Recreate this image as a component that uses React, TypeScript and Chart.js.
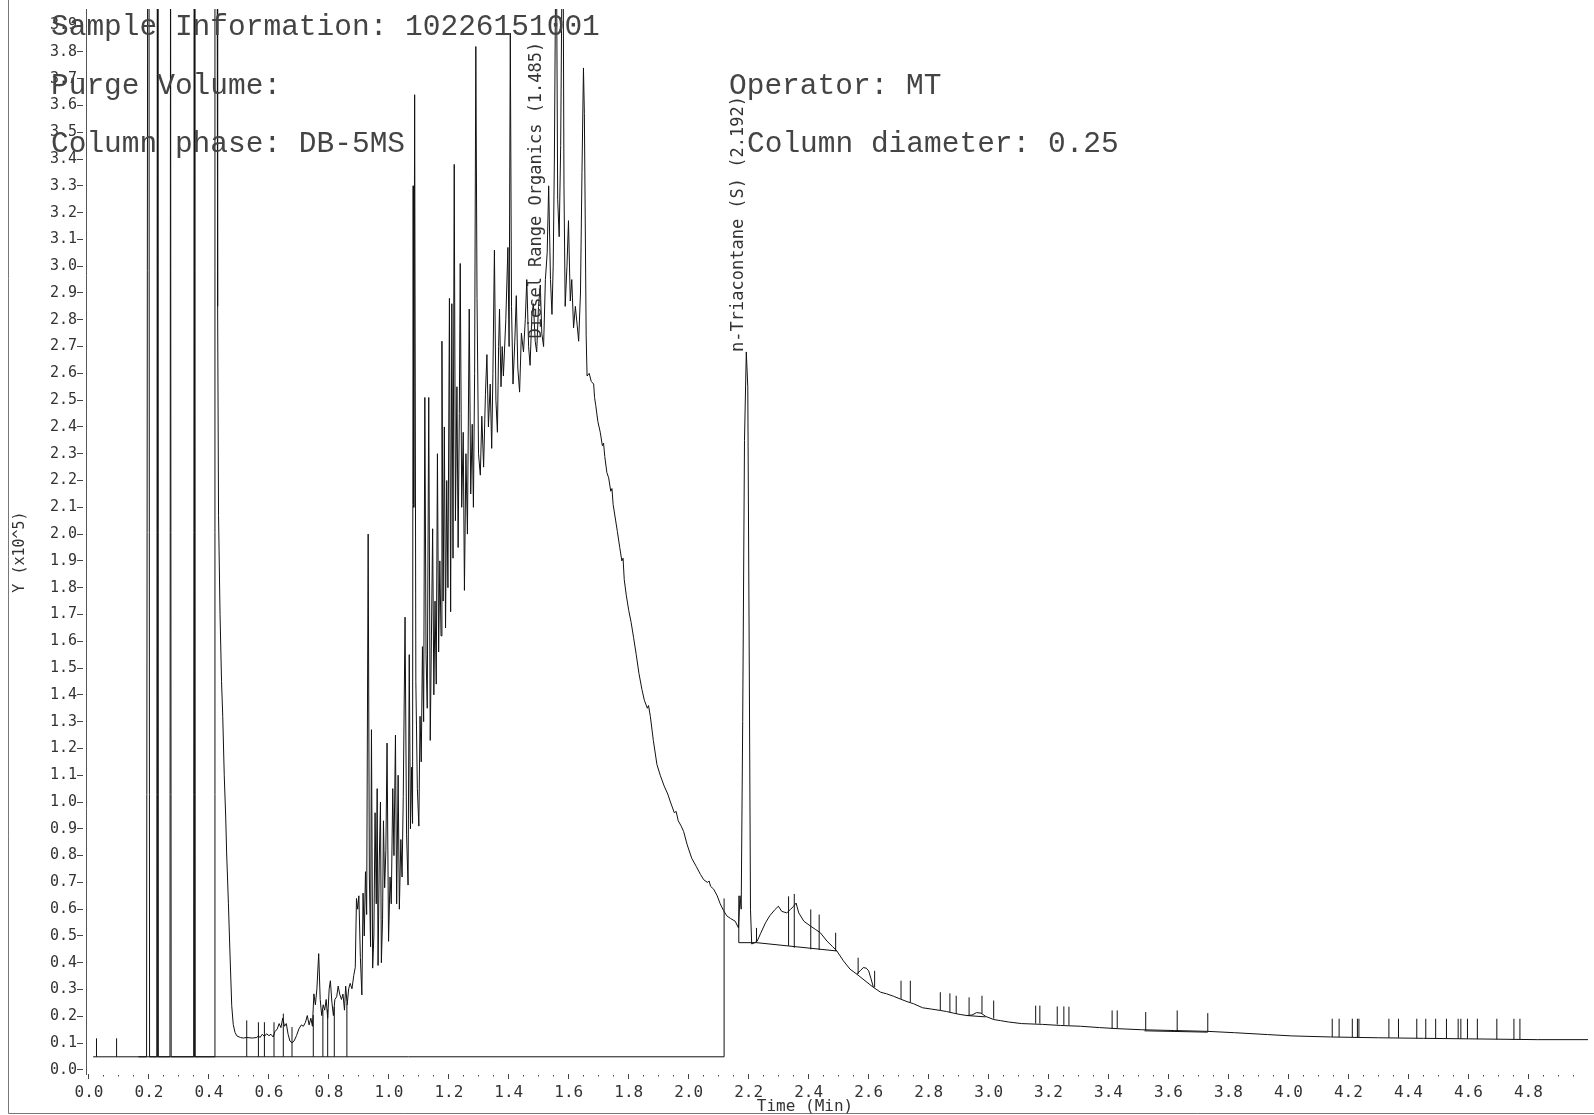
import React, { useEffect, useRef } from "react";
import { Chart, registerables } from "chart.js";

Chart.register(...registerables);

// ---------- DATA (time in minutes, response in 10^5 units) ----------

// solvent front: narrow spikes and the big solvent peak
const earlyTrace: [number, number][] = [
  [0.165, 0.049], [0.192, 0.049], [0.196, 4.6], [0.2, 4.6], [0.202, 0.049],
  [0.226, 0.049], [0.228, 4.6], [0.23, 0.049],
  [0.27, 0.049], [0.272, 4.6], [0.274, 0.049],
  [0.349, 0.049], [0.351, 4.6], [0.353, 0.049],
  [0.417, 0.049], [0.42, 4.6], [0.427, 4.6], [0.429, 2.85], [0.432, 2.07], [0.437, 1.7],
  [0.442, 1.45], [0.446, 1.32], [0.451, 1.1], [0.456, 0.94], [0.459, 0.81], [0.465, 0.62],
  [0.47, 0.44], [0.476, 0.24], [0.481, 0.17], [0.487, 0.14], [0.493, 0.127], [0.505, 0.121],
  [0.515, 0.119],
];

// low baseline region before the hydrocarbon hump
const lowTrace: [number, number][] = [
  [0.525, 0.121], [0.545, 0.119], [0.56, 0.121], [0.565, 0.128], [0.57, 0.121], [0.578, 0.133],
  [0.585, 0.125], [0.592, 0.135], [0.6, 0.128], [0.607, 0.133], [0.614, 0.123], [0.62, 0.143],
  [0.628, 0.153], [0.634, 0.173], [0.64, 0.158], [0.646, 0.193], [0.652, 0.163], [0.658, 0.173],
  [0.664, 0.133], [0.67, 0.108], [0.677, 0.101], [0.684, 0.108], [0.692, 0.128], [0.7, 0.153],
  [0.708, 0.168], [0.715, 0.163], [0.722, 0.178], [0.728, 0.203], [0.734, 0.168], [0.74, 0.193],
  [0.745, 0.163], [0.75, 0.284], [0.755, 0.243], [0.76, 0.303], [0.766, 0.434], [0.771, 0.263],
  [0.776, 0.203], [0.781, 0.243], [0.786, 0.223], [0.791, 0.263], [0.796, 0.193], [0.801, 0.303],
  [0.805, 0.333], [0.81, 0.253], [0.815, 0.203], [0.82, 0.263], [0.826, 0.273], [0.831, 0.313],
  [0.836, 0.283], [0.842, 0.263], [0.847, 0.283], [0.852, 0.223], [0.856, 0.313], [0.861, 0.243],
  [0.866, 0.303], [0.871, 0.323], [0.877, 0.303], [0.883, 0.353], [0.888, 0.383],
];

// diesel range organics: dense spike forest
const droForest: [number, number][] = [
  [0.892, 0.64], [0.896, 0.6], [0.9, 0.65], [0.905, 0.42], [0.91, 0.28], [0.914, 0.66],
  [0.918, 0.5], [0.922, 0.74], [0.926, 0.58], [0.931, 2.0], [0.935, 0.72], [0.939, 0.46],
  [0.942, 1.27], [0.946, 0.38], [0.95, 0.5], [0.954, 0.96], [0.958, 0.62], [0.961, 1.05],
  [0.964, 0.39], [0.968, 0.78], [0.972, 1.0], [0.975, 0.4], [0.979, 0.56], [0.982, 0.93],
  [0.986, 0.68], [0.99, 0.82], [0.994, 1.22], [0.999, 0.48], [1.004, 0.72], [1.008, 0.62],
  [1.013, 1.05], [1.017, 0.8], [1.022, 1.25], [1.026, 0.62], [1.031, 1.1], [1.035, 0.6],
  [1.04, 0.86], [1.044, 0.72], [1.048, 1.02], [1.054, 1.69], [1.059, 0.88], [1.064, 0.69],
  [1.068, 1.55], [1.072, 0.9], [1.076, 1.13], [1.079, 0.92], [1.081, 3.3], [1.083, 2.1],
  [1.086, 3.64], [1.09, 1.45], [1.095, 1.05], [1.1, 0.91], [1.104, 1.32], [1.108, 1.15],
  [1.112, 1.58], [1.116, 1.3], [1.12, 2.51], [1.124, 1.55], [1.128, 1.35], [1.133, 2.51],
  [1.138, 1.23], [1.142, 1.62], [1.146, 2.02], [1.15, 1.4], [1.154, 1.75], [1.158, 1.44],
  [1.162, 2.3], [1.166, 1.56], [1.17, 1.9], [1.174, 1.62], [1.177, 2.72], [1.181, 1.75],
  [1.185, 2.4], [1.189, 1.65], [1.193, 2.2], [1.197, 1.8], [1.202, 2.88], [1.206, 1.71],
  [1.21, 2.86], [1.214, 1.91], [1.218, 3.38], [1.222, 2.05], [1.227, 2.55], [1.231, 1.95],
  [1.235, 2.45], [1.238, 3.01], [1.243, 2.1], [1.248, 2.38], [1.252, 1.79], [1.257, 2.3],
  [1.262, 2.0], [1.268, 2.84], [1.273, 2.15], [1.278, 2.41], [1.282, 2.1], [1.286, 2.6],
  [1.29, 3.82], [1.294, 2.88], [1.299, 2.3], [1.305, 2.22], [1.31, 2.44], [1.316, 2.25],
  [1.322, 2.52], [1.327, 2.67], [1.332, 2.4], [1.338, 2.56], [1.343, 2.32], [1.347, 2.6],
  [1.352, 3.06], [1.357, 2.5], [1.362, 2.38], [1.366, 2.7], [1.369, 2.84], [1.374, 2.55],
  [1.378, 2.7], [1.382, 2.59], [1.39, 2.8], [1.397, 3.07], [1.401, 2.7], [1.405, 3.87],
  [1.409, 2.85], [1.414, 2.56], [1.42, 2.72], [1.425, 2.89], [1.43, 2.62], [1.436, 2.53],
  [1.442, 2.75], [1.449, 2.68], [1.455, 2.8], [1.46, 2.95], [1.466, 2.7], [1.471, 2.63],
  [1.477, 2.82], [1.482, 2.86], [1.488, 2.72], [1.493, 2.68], [1.499, 2.85], [1.505, 2.93],
  [1.51, 2.75], [1.516, 2.7], [1.522, 2.95], [1.528, 3.05], [1.533, 3.3], [1.539, 2.95],
  [1.544, 2.82], [1.548, 3.0], [1.552, 3.4], [1.558, 4.4], [1.563, 3.25], [1.568, 3.11],
  [1.573, 3.45], [1.58, 4.5], [1.584, 3.3], [1.588, 2.85], [1.594, 3.0], [1.599, 3.17],
  [1.605, 2.87], [1.61, 2.95], [1.616, 2.77], [1.622, 2.85], [1.628, 2.78], [1.633, 2.72],
  [1.639, 2.9], [1.644, 3.35], [1.649, 3.74], [1.652, 3.57], [1.658, 2.74],
];

// falling edge of the hump and the surrogate peak
const descentTrace: [number, number][] = [
  [1.661, 2.59], [1.668, 2.6], [1.675, 2.57], [1.683, 2.56], [1.686, 2.51], [1.69, 2.48],
  [1.697, 2.42], [1.705, 2.38], [1.712, 2.33], [1.716, 2.34], [1.72, 2.29], [1.727, 2.23],
  [1.733, 2.21], [1.74, 2.16], [1.744, 2.17], [1.748, 2.11], [1.755, 2.06], [1.762, 2.01],
  [1.77, 1.95], [1.777, 1.9], [1.781, 1.91], [1.785, 1.83], [1.792, 1.77], [1.8, 1.715],
  [1.808, 1.67], [1.816, 1.615], [1.825, 1.55], [1.834, 1.48], [1.844, 1.42], [1.852, 1.38],
  [1.862, 1.35], [1.866, 1.36], [1.872, 1.32], [1.882, 1.23], [1.894, 1.14], [1.905, 1.1],
  [1.918, 1.06], [1.93, 1.03], [1.939, 1.0], [1.952, 0.96], [1.958, 0.965], [1.965, 0.93],
  [1.975, 0.91], [1.983, 0.89], [1.995, 0.84], [2.01, 0.79], [2.025, 0.76], [2.039, 0.73],
  [2.05, 0.71], [2.062, 0.7], [2.068, 0.705], [2.073, 0.685], [2.083, 0.675], [2.095, 0.65],
  [2.105, 0.62], [2.116, 0.595], [2.127, 0.575], [2.14, 0.565], [2.155, 0.555], [2.166, 0.53],
  [2.171, 0.65], [2.175, 0.6], [2.18, 1.3], [2.186, 2.35], [2.192, 2.68], [2.197, 2.55],
  [2.202, 1.5], [2.206, 0.6], [2.21, 0.47], [2.22, 0.475], [2.228, 0.48], [2.24, 0.51],
  [2.256, 0.549], [2.27, 0.575], [2.288, 0.599], [2.299, 0.611], [2.31, 0.592], [2.327, 0.586],
  [2.34, 0.6], [2.35, 0.611], [2.358, 0.623], [2.367, 0.586], [2.384, 0.555], [2.406, 0.537],
  [2.422, 0.525], [2.439, 0.512], [2.461, 0.481], [2.48, 0.46], [2.494, 0.444],
];

// late eluting tail
const lateTrace: [number, number][] = [
  [2.516, 0.407], [2.538, 0.376], [2.56, 0.358], [2.572, 0.37], [2.582, 0.382], [2.592, 0.38],
  [2.6, 0.37], [2.608, 0.34], [2.616, 0.308], [2.64, 0.29], [2.66, 0.284], [2.683, 0.275],
  [2.705, 0.265], [2.728, 0.255], [2.75, 0.247], [2.78, 0.232], [2.81, 0.227], [2.839, 0.222],
  [2.86, 0.218], [2.883, 0.212], [2.905, 0.207], [2.928, 0.203], [2.945, 0.205], [2.96, 0.214],
  [2.975, 0.212], [2.99, 0.2], [3.017, 0.188], [3.04, 0.184], [3.066, 0.179], [3.11, 0.173],
  [3.18, 0.17], [3.24, 0.166], [3.307, 0.163], [3.37, 0.158], [3.43, 0.154], [3.51, 0.15],
  [3.62, 0.147], [3.73, 0.144], [3.82, 0.139], [3.93, 0.132], [4.01, 0.127], [4.14, 0.123],
  [4.3, 0.12], [4.45, 0.118], [4.6, 0.116], [4.83, 0.113], [5.0, 0.113],
];

// integration baselines
const baselineSegments: [number, number][][] = [
  [[0.014, 0.049], [2.118, 0.049]],
  [[2.167, 0.475], [2.226, 0.475], [2.494, 0.444]],
  [[2.56, 0.358], [2.616, 0.308]],
  [[2.928, 0.203], [2.99, 0.198]],
  [[3.52, 0.146], [3.731, 0.141]],
];

// peak start/end markers: [time, bottom, top]
const markers: [number, number, number][] = [
  [0.025, 0.049, 0.118], [0.092, 0.049, 0.118],
  [0.526, 0.049, 0.185], [0.565, 0.049, 0.178], [0.585, 0.049, 0.178], [0.617, 0.049, 0.178],
  [0.648, 0.049, 0.21], [0.677, 0.049, 0.16], [0.748, 0.049, 0.205], [0.78, 0.049, 0.225],
  [0.796, 0.049, 0.225], [0.818, 0.049, 0.235], [0.86, 0.049, 0.245],
  [2.118, 0.049, 0.64],
  [2.167, 0.475, 0.65], [2.226, 0.475, 0.53],
  [2.333, 0.463, 0.648], [2.352, 0.456, 0.657], [2.407, 0.45, 0.599], [2.435, 0.448, 0.58],
  [2.49, 0.444, 0.512],
  [2.565, 0.358, 0.419], [2.62, 0.308, 0.37],
  [2.708, 0.265, 0.333], [2.739, 0.253, 0.333],
  [2.839, 0.222, 0.29], [2.871, 0.216, 0.286], [2.892, 0.21, 0.277], [2.935, 0.203, 0.271],
  [2.978, 0.21, 0.277], [3.017, 0.191, 0.259],
  [3.157, 0.173, 0.24], [3.171, 0.173, 0.24], [3.229, 0.17, 0.237], [3.251, 0.168, 0.237],
  [3.268, 0.167, 0.236],
  [3.412, 0.154, 0.222], [3.429, 0.154, 0.222], [3.524, 0.148, 0.216], [3.629, 0.145, 0.222],
  [3.731, 0.142, 0.212],
  [4.146, 0.123, 0.191], [4.169, 0.123, 0.191], [4.213, 0.122, 0.191], [4.23, 0.122, 0.191],
  [4.235, 0.122, 0.191], [4.335, 0.12, 0.191], [4.367, 0.12, 0.191], [4.428, 0.118, 0.191],
  [4.458, 0.117, 0.191], [4.491, 0.117, 0.191], [4.527, 0.117, 0.191], [4.566, 0.116, 0.191],
  [4.575, 0.116, 0.191], [4.597, 0.116, 0.191], [4.63, 0.115, 0.191], [4.695, 0.114, 0.191],
  [4.752, 0.113, 0.191], [4.772, 0.113, 0.191],
];

const peakLabels = ["Diesel Range Organics (1.485)", "n-Triacontane (S) (2.192)"];
const peakTimes = [1.485, 2.192];
const peakLabelHeights = [2.73, 2.68];

const headerTexts = [
  "Sample Information: 10226151001",
  "Purge Volume:",
  "Column phase: DB-5MS",
  "Operator: MT",
  "Column diameter: 0.25",
];
const xTitle = "Time (Min)";
const yTitle = "Y (x10^5)";

// ---------- layout constants ----------
const W = 1594;
const H = 1115;
const headerPos: [number, number][] = [
  [51, 35], [51, 93.5], [51, 152], [729, 93.5], [747, 152],
];
const peakLabelDx = [7, -3];

const overlayPlugin = {
  id: "overlay",
  afterDraw(chart: any) {
    const ctx: CanvasRenderingContext2D = chart.ctx;
    const xs = chart.scales.x;
    const ys = chart.scales.y;
    ctx.save();
    // frame
    ctx.strokeStyle = "#777";
    ctx.lineWidth = 1;
    ctx.setLineDash([]);
    ctx.beginPath();
    ctx.moveTo(8.5, 0);
    ctx.lineTo(8.5, 1113.5);
    ctx.lineTo(W, 1113.5);
    ctx.stroke();

    // header texts
    ctx.fillStyle = "#444";
    ctx.font = '29.5px "Liberation Mono"';
    ctx.textAlign = "left";
    ctx.textBaseline = "alphabetic";
    headerTexts.forEach((t, i) => {
      ctx.fillText(t, headerPos[i][0], headerPos[i][1]);
    });

    // peak labels (rotated)
    ctx.font = '17px "DejaVu Sans Mono"';
    ctx.fillStyle = "#333";
    peakLabels.forEach((t, i) => {
      const px = xs.getPixelForValue(peakTimes[i]) + peakLabelDx[i];
      const py = ys.getPixelForValue(peakLabelHeights[i]);
      ctx.save();
      ctx.translate(px, py);
      ctx.rotate(-Math.PI / 2);
      ctx.textAlign = "left";
      ctx.textBaseline = "alphabetic";
      ctx.fillText(t, 0, 0);
      ctx.restore();
    });

    // axis titles
    ctx.font = '16px "DejaVu Sans Mono"';
    ctx.textAlign = "center";
    ctx.textBaseline = "middle";
    ctx.fillText(xTitle, 805, 1107);
    ctx.save();
    ctx.translate(20, 552);
    ctx.rotate(-Math.PI / 2);
    ctx.font = '15px "DejaVu Sans Mono"';
    ctx.fillText(yTitle, 0, 0);
    ctx.restore();
    ctx.restore();
  },
};

const isMajorX = (v: number) => Math.round(v * 20) % 4 === 0;

export default function App() {
  const ref = useRef<HTMLCanvasElement>(null);
  useEffect(() => {
    document.body.style.margin = "0";
    const canvas = ref.current;
    if (!canvas) return;

    const trace = [...earlyTrace, ...lowTrace, ...droForest, ...descentTrace, ...lateTrace].map(
      ([x, y]) => ({ x, y })
    );
    const baselineData: { x: number; y: number | null }[] = [];
    baselineSegments.forEach((seg) => {
      seg.forEach(([x, y]) => baselineData.push({ x, y }));
      baselineData.push({ x: seg[seg.length - 1][0], y: null });
    });
    const markerData: { x: number; y: number | null }[] = [];
    markers.forEach(([t, b, top]) => {
      markerData.push({ x: t, y: b }, { x: t, y: top }, { x: t, y: null });
    });

    const lineStyle = {
      borderColor: "#111",
      borderWidth: 1,
      pointRadius: 0,
      pointHoverRadius: 0,
      tension: 0,
      fill: false,
      spanGaps: false,
      borderJoinStyle: "round" as const,
    };

    const chart = new Chart(canvas, {
      type: "line",
      data: {
        datasets: [
          { ...lineStyle, data: trace as any },
          { ...lineStyle, data: baselineData as any },
          { ...lineStyle, data: markerData as any },
        ],
      },
      options: {
        responsive: false,
        animation: false,
        events: [],
        layout: { padding: { top: 1, right: 6, left: 0, bottom: 0 } },
        plugins: {
          legend: { display: false },
          tooltip: { enabled: false },
          title: { display: false },
        },
        scales: {
          x: {
            type: "linear",
            min: -0.01,
            max: 4.999,
            afterFit: (s: any) => {
              s.height = 41;
            },
            border: { display: false },
            grid: {
              drawOnChartArea: false,
              drawTicks: true,
              tickLength: 5,
              tickColor: "#444",
              tickWidth: 1,
              tickBorderDash: (c: any) =>
                c.tick && isMajorX(c.tick.value) ? [5, 100] : [0, 1, 1.5, 100],
            },
            ticks: {
              stepSize: 0.05,
              autoSkip: false,
              maxRotation: 0,
              minRotation: 0,
              includeBounds: false,
              padding: 4,
              color: "#333",
              font: { family: "DejaVu Sans Mono", size: 16 },
              callback: (v: any) => (isMajorX(Number(v)) ? Number(v).toFixed(1) : ""),
            },
          },
          y: {
            type: "linear",
            min: -0.0152,
            max: 3.96,
            afterFit: (s: any) => {
              s.width = 86;
            },
            border: { display: true, color: "#555", width: 1, dash: [1, 1.7] },
            grid: {
              drawOnChartArea: false,
              drawTicks: true,
              tickLength: 9,
              tickColor: "#444",
              tickWidth: 1,
              tickBorderDash: [6, 100],
            },
            ticks: {
              stepSize: 0.1,
              autoSkip: false,
              includeBounds: false,
              padding: 0,
              color: "#333",
              font: { family: "DejaVu Sans Mono", size: 15 },
              callback: (v: any) => Number(v).toFixed(1),
            },
          },
        },
      } as any,
      plugins: [overlayPlugin],
    });
    return () => chart.destroy();
  }, []);

  return (
    <div style={{ width: W, height: H, background: "#fff" }}>
      <canvas ref={ref} width={W} height={H} style={{ display: "block" }} />
    </div>
  );
}
